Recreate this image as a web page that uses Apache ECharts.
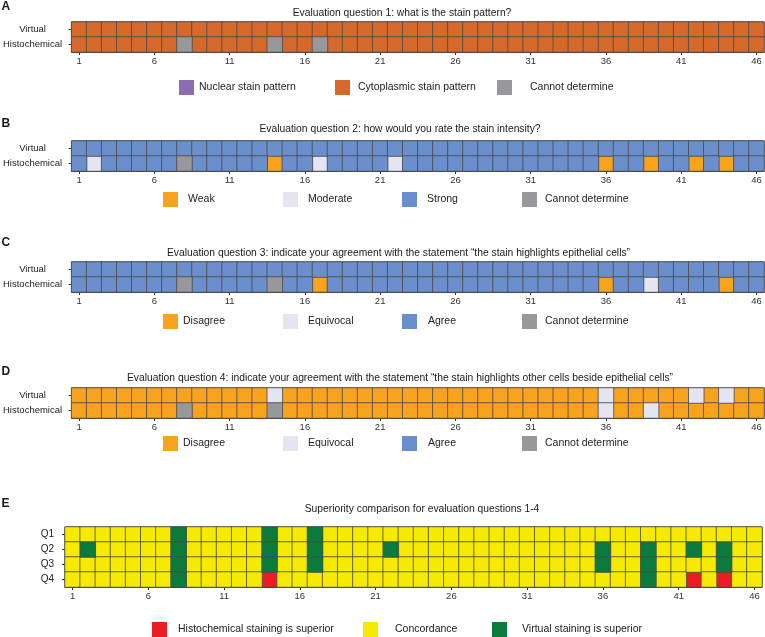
<!DOCTYPE html>
<html>
<head>
<meta charset="utf-8">
<script src="https://cdn.jsdelivr.net/npm/echarts@6/dist/echarts.min.js"></script>
<style>
  html, body { margin: 0; padding: 0; background: #fff; }
  #chart { width: 765px; height: 637px; }
</style>
</head>
<body>
<div id="chart"></div>
<script>
// cases 1..46 along the x axis
var cases = Array.from({length: 46}, function (_, i) { return String(i + 1); });
var raters = ['Virtual', 'Histochemical'];
var questions = ['Q1', 'Q2', 'Q3', 'Q4'];

// Q1: 0 nuclear, 1 cytoplasmic, 2 cannot determine
var q1Names = ['Nuclear stain pattern', 'Cytoplasmic stain pattern', 'Cannot determine'];
var q1Virtual = [1,1,1,1,1,1,1,1,1,1, 1,1,1,1,1,1,1,1,1,1, 1,1,1,1,1,1,1,1,1,1, 1,1,1,1,1,1,1,1,1,1, 1,1,1,1,1,1];
var q1Histo   = [1,1,1,1,1,1,1,2,1,1, 1,1,1,2,1,1,2,1,1,1, 1,1,1,1,1,1,1,1,1,1, 1,1,1,1,1,1,1,1,1,1, 1,1,1,1,1,1];

// Q2: 0 weak, 1 moderate, 2 strong, 3 cannot determine
var q2Names = ['Weak', 'Moderate', 'Strong', 'Cannot determine'];
var q2Virtual = [2,2,2,2,2,2,2,2,2,2, 2,2,2,2,2,2,2,2,2,2, 2,2,2,2,2,2,2,2,2,2, 2,2,2,2,2,2,2,2,2,2, 2,2,2,2,2,2];
var q2Histo   = [2,1,2,2,2,2,2,3,2,2, 2,2,2,0,2,2,1,2,2,2, 2,1,2,2,2,2,2,2,2,2, 2,2,2,2,2,0,2,2,0,2, 2,0,2,0,2,2];

// Q3 / Q4: 0 disagree, 1 equivocal, 2 agree, 3 cannot determine
var agreeNames = ['Disagree', 'Equivocal', 'Agree', 'Cannot determine'];
var q3Virtual = [2,2,2,2,2,2,2,2,2,2, 2,2,2,2,2,2,2,2,2,2, 2,2,2,2,2,2,2,2,2,2, 2,2,2,2,2,2,2,2,2,2, 2,2,2,2,2,2];
var q3Histo   = [2,2,2,2,2,2,2,3,2,2, 2,2,2,3,2,2,0,2,2,2, 2,2,2,2,2,2,2,2,2,2, 2,2,2,2,2,0,2,2,1,2, 2,2,2,0,2,2];
var q4Virtual = [0,0,0,0,0,0,0,0,0,0, 0,0,0,1,0,0,0,0,0,0, 0,0,0,0,0,0,0,0,0,0, 0,0,0,0,0,1,0,0,0,0, 0,1,0,1,0,0];
var q4Histo   = [0,0,0,0,0,0,0,3,0,0, 0,0,0,3,0,0,0,0,0,0, 0,0,0,0,0,0,0,0,0,0, 0,0,0,0,0,1,0,0,1,0, 0,0,0,0,0,0];

// superiority: 0 histochemical superior, 1 concordance, 2 virtual superior
var supNames = ['Histochemical staining is superior', 'Concordance', 'Virtual staining is superior'];
var supQ1 = [1,1,1,1,1,1,1,2,1,1, 1,1,1,2,1,1,2,1,1,1, 1,1,1,1,1,1,1,1,1,1, 1,1,1,1,1,1,1,1,1,1, 1,1,1,1,1,1];
var supQ2 = [1,2,1,1,1,1,1,2,1,1, 1,1,1,2,1,1,2,1,1,1, 1,2,1,1,1,1,1,1,1,1, 1,1,1,1,1,2,1,1,2,1, 1,2,1,2,1,1];
var supQ3 = [1,1,1,1,1,1,1,2,1,1, 1,1,1,2,1,1,2,1,1,1, 1,1,1,1,1,1,1,1,1,1, 1,1,1,1,1,2,1,1,2,1, 1,1,1,2,1,1];
var supQ4 = [1,1,1,1,1,1,1,2,1,1, 1,1,1,0,1,1,1,1,1,1, 1,1,1,1,1,1,1,1,1,1, 1,1,1,1,1,1,1,1,2,1, 1,0,1,0,1,1];

var FONT = 'Liberation Sans, Arial, Helvetica, sans-serif';
var q1Colors = ['#8c6bb1', '#d5682b', '#98989c'];
var q2Colors = ['#f8a31d', '#e5e5f2', '#6a8fcc', '#98989c'];
var supColors = ['#ec1c24', '#f5ea00', '#0a7b3c'];

var chart = echarts.init(document.getElementById('chart'));

function panelSeries(idx, names, colors, rows) {
    return names.map(function (name, k) {
        var data = [];
        rows.forEach(function (row, r) {
            row.forEach(function (code, c) {
                if (code === k) data.push([c, r, 1]);
            });
        });
        return {
            type: 'heatmap',
            name: name,
            xAxisIndex: idx,
            yAxisIndex: idx,
            data: data,
            itemStyle: {color: colors[k], borderColor: '#4a4a4a', borderWidth: 0.8},
            emphasis: {disabled: true}
        };
    });
}

function xAxisFor(idx) {
    return {
        type: 'category',
        gridIndex: idx,
        data: cases,
        axisLine: {show: true, lineStyle: {color: '#333', width: 1}},
        axisTick: {show: true, alignWithLabel: true, interval: 4, length: 3, lineStyle: {color: '#333'}},
        axisLabel: {interval: 4, fontSize: 9.5, color: '#333', margin: 4, fontFamily: FONT},
        splitLine: {show: false}
    };
}

function yAxisFor(idx, cats, small) {
    return {
        type: 'category',
        gridIndex: idx,
        data: cats,
        inverse: true,
        axisLine: {show: false},
        axisTick: {show: true, alignWithLabel: true, length: 3, lineStyle: {color: '#333'}},
        axisLabel: small
            ? {fontSize: 10, color: '#222', margin: 11, fontFamily: FONT}
            : {fontSize: 9.5, color: '#222', margin: 39, align: 'center', fontFamily: FONT},
        splitLine: {show: false}
    };
}

function legendItem(name, x, textX, y) {
    return {
        data: [name],
        left: x,
        top: y,
        padding: 0,
        icon: 'rect',
        itemWidth: 15,
        itemHeight: 15,
        itemStyle: {borderWidth: 0},
        selectedMode: false,
        textStyle: {fontSize: 10.5, color: '#222', fontFamily: FONT, padding: [0, 0, 0, textX - x - 20]}
    };
}

function label(text, x, y, size, bold) {
    return {
        type: 'text',
        x: x,
        y: y,
        style: {
            text: text,
            fontSize: size,
            fontWeight: bold ? 'bold' : 'normal',
            fontFamily: FONT,
            fill: '#1a1a1a',
            align: bold ? 'left' : 'center',
            verticalAlign: 'middle'
        }
    };
}

var gridBase = {show: true, borderColor: '#333', borderWidth: 1, backgroundColor: 'transparent', containLabel: false};

var option = {
    animation: false,
    grid: [
        Object.assign({left: 69, top: 22, width: 695, height: 30}, gridBase),
        Object.assign({left: 69, top: 141, width: 695, height: 30}, gridBase),
        Object.assign({left: 69, top: 262, width: 695, height: 30}, gridBase),
        Object.assign({left: 69, top: 388, width: 695, height: 30}, gridBase),
        Object.assign({left: 65, top: 527, width: 697, height: 60}, gridBase)
    ],
    xAxis: [xAxisFor(0), xAxisFor(1), xAxisFor(2), xAxisFor(3), xAxisFor(4)],
    yAxis: [
        yAxisFor(0, raters), yAxisFor(1, raters), yAxisFor(2, raters), yAxisFor(3, raters),
        yAxisFor(4, questions, true)
    ],
    legend: [
        legendItem(q1Names[0], 179, 199, 80),
        legendItem(q1Names[1], 335, 358, 80),
        legendItem(q1Names[2], 497, 530, 80),
        legendItem(q2Names[0], 163, 188, 192),
        legendItem(q2Names[1], 283, 308, 192),
        legendItem(q2Names[2], 402, 427, 192),
        legendItem(q2Names[3], 522, 545, 192),
        legendItem(agreeNames[0], 163, 183, 314),
        legendItem(agreeNames[1], 283, 308, 314),
        legendItem(agreeNames[2], 402, 428, 314),
        legendItem(agreeNames[3], 522, 545, 314),
        legendItem(agreeNames[0], 163, 183, 436),
        legendItem(agreeNames[1], 283, 308, 436),
        legendItem(agreeNames[2], 402, 428, 436),
        legendItem(agreeNames[3], 522, 545, 436),
        legendItem(supNames[0], 152, 178, 622),
        legendItem(supNames[1], 363, 395, 622),
        legendItem(supNames[2], 492, 522, 622)
    ],
    graphic: [
        label('A', 1.5, 7, 12, true),
        label('B', 1.5, 124, 12, true),
        label('C', 1.5, 243, 12, true),
        label('D', 1.5, 372, 12, true),
        label('E', 1.5, 504, 12, true),
        label('Evaluation question 1: what is the stain pattern?', 402, 13.5, 10.3),
        label('Evaluation question 2: how would you rate the stain intensity?', 400, 129.5, 10.3),
        label('Evaluation question 3: indicate your agreement with the statement \u201cthe stain highlights epithelial cells\u201d', 398.5, 253, 10.3),
        label('Evaluation question 4: indicate your agreement with the statement \u201cthe stain highlights other cells beside epithelial cells\u201d', 400, 378.5, 10.3),
        label('Superiority comparison for evaluation questions 1-4', 422, 509, 10.3)
    ],
    series: [].concat(
        panelSeries(0, q1Names, q1Colors, [q1Virtual, q1Histo]),
        panelSeries(1, q2Names, q2Colors, [q2Virtual, q2Histo]),
        panelSeries(2, agreeNames, q2Colors, [q3Virtual, q3Histo]),
        panelSeries(3, agreeNames, q2Colors, [q4Virtual, q4Histo]),
        panelSeries(4, supNames, supColors, [supQ1, supQ2, supQ3, supQ4])
    )
};

chart.setOption(option);
</script>
</body>
</html>
